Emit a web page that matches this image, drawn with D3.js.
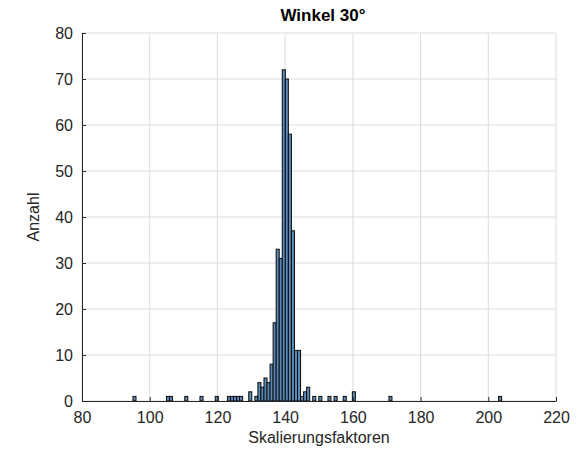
<!DOCTYPE html>
<html>
<head>
<meta charset="utf-8">
<script src="https://cdn.jsdelivr.net/npm/d3@7"></script>
<style>
  body { margin: 0; background: #fff; }
  text { font-family: "Liberation Sans", Arial, sans-serif; }
</style>
</head>
<body>
<div id="chart"></div>
<script>
// histogram bins: left edge of each non-empty bin and its count
var binWidth = 0.9;
var binEdges = [95.05, 104.95, 105.85, 110.35, 114.85, 119.35, 122.95, 123.85,
  124.75, 125.65, 126.55, 129.25, 131.05, 131.95, 132.85, 133.75, 134.65,
  135.55, 136.45, 137.35, 138.25, 139.15, 140.05, 140.95, 141.85, 142.75,
  143.65, 144.55, 145.45, 146.35, 148.15, 149.95, 152.65, 154.45, 157.15,
  159.85, 170.65, 203.05];
var binCounts = [1, 1, 1, 1, 1, 1, 1, 1,
  1, 1, 1, 2, 1, 4, 3, 5, 4,
  8, 17, 33, 31, 72, 70, 58, 37, 11,
  11, 1, 2, 3, 1, 1, 1, 1, 1,
  2, 1, 1];

var xTicks = [80, 100, 120, 140, 160, 180, 200, 220];
var yTicks = [0, 10, 20, 30, 40, 50, 60, 70, 80];

var width = 585, height = 467;
var margin = { top: 33, right: 29, bottom: 66, left: 82 };
var innerW = width - margin.left - margin.right;
var innerH = height - margin.top - margin.bottom;

var svg = d3.select("#chart").append("svg")
  .attr("width", width)
  .attr("height", height);

var g = svg.append("g")
  .attr("transform", "translate(" + margin.left + "," + margin.top + ")");

var x = d3.scaleLinear().domain([80, 220]).range([0, innerW]);
var y = d3.scaleLinear().domain([0, 80]).range([innerH, 0]);

// grid
g.append("g").selectAll("line").data(xTicks).join("line")
  .attr("x1", d => x(d)).attr("x2", d => x(d))
  .attr("y1", 0).attr("y2", innerH)
  .attr("stroke", "#dcdcdc").attr("stroke-width", 1);
g.append("g").selectAll("line").data(yTicks).join("line")
  .attr("x1", 0).attr("x2", innerW)
  .attr("y1", d => y(d)).attr("y2", d => y(d))
  .attr("stroke", "#dcdcdc").attr("stroke-width", 1);

// bars
var bins = binEdges.map(function (e, i) { return { x0: e, n: binCounts[i] }; });
g.append("g").selectAll("rect").data(bins).join("rect")
  .attr("x", d => x(d.x0))
  .attr("width", d => x(d.x0 + binWidth) - x(d.x0))
  .attr("y", d => y(d.n))
  .attr("height", d => y(0) - y(d.n))
  .attr("fill", "#5a8bb8")
  .attr("stroke", "#0a0a0a")
  .attr("stroke-width", 1);

// axes (ticks inside, MATLAB style)
var xAxis = g.append("g")
  .attr("transform", "translate(0," + innerH + ")")
  .call(d3.axisBottom(x).tickValues(xTicks).tickSizeInner(-4).tickSizeOuter(0).tickPadding(11));
var yAxis = g.append("g")
  .call(d3.axisLeft(y).tickValues(yTicks).tickSizeInner(-4).tickSizeOuter(0).tickPadding(9));

[xAxis, yAxis].forEach(function (a) {
  a.select(".domain").attr("stroke", "#262626");
  a.selectAll(".tick line").attr("stroke", "#262626");
  a.selectAll(".tick text")
    .attr("fill", "#262626")
    .style("font-size", "16px")
    .style("font-family", "'Liberation Sans', Arial, sans-serif");
});

// labels
svg.append("text")
  .attr("x", margin.left + innerW / 2 + 4)
  .attr("y", 21)
  .attr("text-anchor", "middle")
  .style("font-size", "17px")
  .style("font-weight", "bold")
  .attr("fill", "#000")
  .text("Winkel 30°");

svg.append("text")
  .attr("x", margin.left + innerW / 2)
  .attr("y", 443)
  .attr("text-anchor", "middle")
  .style("font-size", "16px")
  .attr("fill", "#262626")
  .text("Skalierungsfaktoren");

svg.append("text")
  .attr("transform", "translate(39," + (margin.top + innerH / 2) + ") rotate(-90)")
  .attr("text-anchor", "middle")
  .style("font-size", "16px")
  .attr("fill", "#262626")
  .text("Anzahl");
</script>
</body>
</html>
